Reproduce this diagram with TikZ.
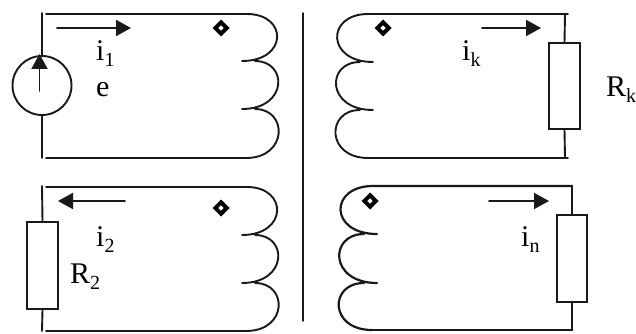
\documentclass[tikz,border=0pt]{standalone}
\usepackage{fontspec}
\setmainfont{Liberation Serif}
\usetikzlibrary{arrows.meta,shapes.geometric}
\newcommand{\lbl}[2]{#1\raisebox{-0.2em}{\fontsize{20}{20}\selectfont #2}}
\tikzset{
  wire/.style={line width=1.9pt,line cap=round,black!90},
  thickwire/.style={wire,line width=2.2pt},
  current/.style={wire,-{Triangle[length=15pt,width=16pt]}},
  resistor/.style={draw=black!90,line width=1.9pt,fill=white,minimum width=31pt,inner sep=0pt},
  source/.style={circle,draw=black!90,line width=1.9pt,minimum size=59pt,inner sep=0pt},
  dot/.style={diamond,draw=black,line width=4pt,fill=white,inner sep=0pt,minimum size=13pt},
  lab/.style={anchor=base west,inner sep=0pt,font=\fontsize{30}{30}\selectfont},
}
\begin{document}
\begin{tikzpicture}[x=1pt,y=-1pt]
\useasboundingbox (0,0) rectangle (636,334);
% core
\coordinate (c1) at (303,13); \coordinate (c2) at (303,321);
\draw[wire] (c1) -- (c2);

% top-left winding
\node[source] (e) at (42,85.5) {};
\coordinate (a1) at (42,13); \coordinate (a2) at (42,158);
\coordinate (a3) at (46,14); \coordinate (a4) at (247,14);
\coordinate (a5) at (246,158); \coordinate (a6) at (46,158);
\draw[wire] (a1) -- (e.north);
\draw[wire] (e.south) -- (a2);
\draw[wire] (a3) -- (a4) .. controls (288,14) and (288,61) .. (242,61)
  (255,61) .. controls (288,61) and (288,109) .. (242,109)
  (255,109) .. controls (288,109) and (288,158) .. (a5) -- (a6);
\coordinate (s1) at (39.5,91); \coordinate (s2) at (39.5,54);
\draw[current] (s1) -- (s2);
\coordinate (i1a) at (57,28); \coordinate (i1b) at (131,28);
\draw[current] (i1a) -- (i1b);
\node[dot] (d1) at (221,28) {};
\node[lab] (li1) at (96,61) {\lbl{i}{1}};
\node[lab] (le) at (96,97) {e};

% top-right winding
\node[resistor,minimum height=86pt] (rk) at (564.5,86) {};
\coordinate (b1) at (368,14); \coordinate (b2) at (568,14);
\coordinate (b3) at (368,158); \coordinate (b4) at (568,158);
\coordinate (b5) at (565,14); \coordinate (b6) at (565,158);
\draw[wire] (b5) -- (rk.north);
\draw[wire] (rk.south) -- (b6);
\draw[wire] (b2) -- (b1) .. controls (326,14) and (326,62) .. (373,62)
  (360,62) .. controls (326,62) and (326,110) .. (373,110)
  (360,110) .. controls (326,110) and (326,158) .. (b3) -- (b4);
\coordinate (ika) at (482,28); \coordinate (ikb) at (541,28);
\draw[current] (ika) -- (ikb);
\node[dot,aspect=1.25] (d2) at (383,28) {};
\node[lab] (lik) at (462,61) {\lbl{i}{k}};
\node[lab] (lrk) at (606,97) {\lbl{R}{k}};

% bottom-left winding
\node[resistor,minimum height=87pt] (r2) at (42.5,265.5) {};
\coordinate (e1) at (42,186); \coordinate (e2) at (42,331);
\coordinate (e3) at (46,187); \coordinate (e4) at (247,187);
\coordinate (e5) at (246,331); \coordinate (e6) at (46,331);
\draw[wire] (e1) -- (r2.north);
\draw[wire] (r2.south) -- (e2);
\draw[wire] (e3) -- (e4) .. controls (288,187) and (288,235) .. (242,235)
  (255,235) .. controls (288,235) and (288,283) .. (242,283)
  (255,283) .. controls (288,283) and (288,331) .. (e5) -- (e6);
\coordinate (i2a) at (125,201); \coordinate (i2b) at (58,201);
\draw[current] (i2a) -- (i2b);
\node[dot] (d3) at (221,208) {};
\node[lab] (li2) at (96,246) {\lbl{i}{2}};
\node[lab] (lr2) at (70,283) {\lbl{R}{2}};

% bottom-right winding
\node[resistor,minimum width=30pt,minimum height=87pt] (rn) at (572,258.5) {};
\coordinate (f1) at (373,186); \coordinate (f2) at (572,186);
\coordinate (f3) at (372,330); \coordinate (f4) at (572,330);
\draw[thickwire] (f2) -- (rn.north);
\draw[thickwire] (rn.south) -- (f4) -- (f3);
\draw[thickwire] (f2) -- (f1) .. controls (329,186) and (329,234) .. (377,234)
  (364,234) .. controls (329,234) and (329,283) .. (377,283)
  (364,283) .. controls (329,283) and (329,330) .. (f3);
\coordinate (ina) at (489,201); \coordinate (inb) at (549,201);
\draw[current] (ina) -- (inb);
\node[dot] (d4) at (370,201) {};
\node[lab] (lin) at (521,246) {\lbl{i}{n}};
\end{tikzpicture}
\end{document}
